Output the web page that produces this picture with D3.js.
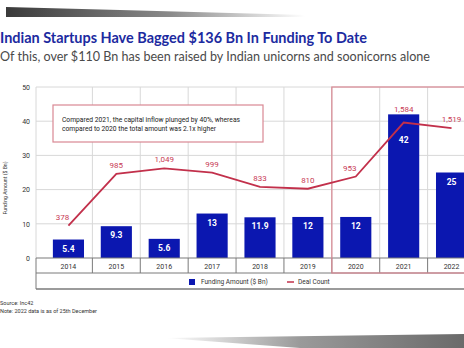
<!DOCTYPE html>
<html>
<head>
<meta charset="utf-8">
<script src="https://cdn.jsdelivr.net/npm/d3@7"></script>
<style>
  html, body { margin: 0; padding: 0; background: #fff; }
  svg { display: block; }
  text { font-family: "Liberation Sans Narrow", "Roboto", sans-serif; }
</style>
</head>
<body>
<svg id="chart" width="464" height="348"></svg>
<script>
    // chart data
    var years = ["2014", "2015", "2016", "2017", "2018", "2019", "2020", "2021", "2022"];
    var funding = [5.4, 9.3, 5.6, 13, 11.9, 12, 12, 42, 25];
    var fundingLabels = ["5.4", "9.3", "5.6", "13", "11.9", "12", "12", "42", "25"];
    var deals = [378, 985, 1049, 999, 833, 810, 953, 1584, 1519];
    var yTicks = [0, 10, 20, 30, 40, 50];
    var highlightYears = ["2020", "2021", "2022"];

    (function() {
    'use strict';
    var blue = "#0b17b0", red = "#c2304b", pink = "#d98893";

    var svg = d3.select("#chart");
    svg.append("rect").attr("width", 464).attr("height", 348).attr("fill", "#fff");

    var defs = svg.append("defs");
    var g1 = defs.append("linearGradient").attr("id", "shTop");
    g1.append("stop").attr("offset", "0%").attr("stop-color", "#3a3a3a");
    g1.append("stop").attr("offset", "55%").attr("stop-color", "#8a8a8a");
    g1.append("stop").attr("offset", "100%").attr("stop-color", "#fff");
    var g2 = defs.append("linearGradient").attr("id", "shBot");
    g2.append("stop").attr("offset", "0%").attr("stop-color", "#fff");
    g2.append("stop").attr("offset", "45%").attr("stop-color", "#9a9a9a");
    g2.append("stop").attr("offset", "100%").attr("stop-color", "#6a6a6a");

    // photo shadows of the slide
    svg.append("path").attr("d", "M6,7 L120,10 L305,15 L305,17 L6,17 Z").attr("fill", "url(#shTop)");
    svg.append("path").attr("d", "M165,338 L464,334 L464,348 L300,348 Z").attr("fill", "url(#shBot)");

    // titles
    svg.append("text").attr("x", 0).attr("y", 43)
        .attr("textLength", 367).attr("lengthAdjust", "spacingAndGlyphs")
        .style("font-family", "Lato, 'Open Sans', sans-serif")
        .attr("font-size", 15).attr("font-weight", "bold").attr("fill", "#1c2aa0")
        .text("Indian Startups Have Bagged $136 Bn In Funding To Date");
    svg.append("text").attr("x", 0).attr("y", 61)
        .attr("textLength", 430).attr("lengthAdjust", "spacingAndGlyphs")
        .style("font-family", "Lato, 'Open Sans', sans-serif")
        .attr("font-size", 13).attr("fill", "#4a4a4a")
        .text("Of this, over $110 Bn has been raised by Indian unicorns and soonicorns alone");

    var plotLeft = 36, plotTop = 87, base = 258, axisRow = 273, legendRow = 289;

    var x = d3.scaleBand().domain(years).range([44.5, 475.5]);
    var y = d3.scaleLinear().domain([0, 50]).range([base, plotTop]);
    var yDeal = d3.scaleLinear().domain([0, 2000]).range([base, plotTop]);
    var barW = x.bandwidth() * 0.65;
    var cx = function(d) { return x(d) + x.bandwidth() / 2; };

    // grid
    svg.append("g").selectAll("line").data(yTicks.slice(1)).join("line")
        .attr("x1", plotLeft).attr("x2", 464)
        .attr("y1", function(d) { return y(d); }).attr("y2", function(d) { return y(d); })
        .attr("stroke", "#d8d8d8").attr("stroke-width", 1);
    svg.append("g").selectAll("line").data(years.slice(1)).join("line")
        .attr("x1", function(d) { return x(d); }).attr("x2", function(d) { return x(d); })
        .attr("y1", plotTop).attr("y2", base)
        .attr("stroke", "#d8d8d8").attr("stroke-width", 1);
    svg.append("line").attr("x1", plotLeft).attr("x2", plotLeft).attr("y1", plotTop).attr("y2", base)
        .attr("stroke", "#d8d8d8");

    // y axis
    var yAxis = svg.append("g").attr("transform", "translate(" + plotLeft + ",0)")
        .call(d3.axisLeft(y).tickValues(yTicks).tickSize(0).tickPadding(6));
    yAxis.select(".domain").remove();
    yAxis.selectAll("text").attr("font-size", 7).attr("fill", "#333")
        .style("font-family", "'Liberation Sans Narrow', Roboto, sans-serif");
    svg.append("text").attr("transform", "translate(7,188) rotate(-90)")
        .attr("text-anchor", "middle").attr("font-size", 5.5).attr("fill", "#333")
        .attr("textLength", 53).attr("lengthAdjust", "spacingAndGlyphs")
        .text("Funding Amount ($ Bn)");

    // annotation box
    svg.append("rect").attr("x", 53).attr("y", 105).attr("width", 210).attr("height", 37)
        .attr("fill", "#fff").attr("stroke", pink).attr("stroke-width", 1.2);
    svg.append("text").attr("x", 62).attr("y", 122).attr("font-size", 7).attr("fill", "#222")
        .attr("textLength", 178).attr("lengthAdjust", "spacingAndGlyphs")
        .text("Compared 2021, the capital inflow plunged by 40%, whereas");
    svg.append("text").attr("x", 62).attr("y", 131).attr("font-size", 7).attr("fill", "#222")
        .attr("textLength", 154).attr("lengthAdjust", "spacingAndGlyphs")
        .text("compared to 2020 the total amount was 2.1x higher");

    // bars
    svg.append("g").selectAll("rect").data(years).join("rect")
        .attr("x", function(d) { return cx(d) - barW / 2; })
        .attr("y", function(d, i) { return y(funding[i]); })
        .attr("width", barW)
        .attr("height", function(d, i) { return base - y(funding[i]); })
        .attr("fill", blue);

    // table rows under the axis
    var tbl = svg.append("g").attr("stroke", "#7a7a7a").attr("fill", "none");
    tbl.append("line").attr("x1", plotLeft).attr("x2", 464).attr("y1", base).attr("y2", base).attr("stroke-width", 1.2);
    tbl.append("line").attr("x1", plotLeft).attr("x2", 464).attr("y1", axisRow).attr("y2", axisRow);
    tbl.append("line").attr("x1", plotLeft).attr("x2", 464).attr("y1", legendRow).attr("y2", legendRow).attr("stroke-width", 1.5);
    tbl.append("line").attr("x1", plotLeft).attr("x2", plotLeft).attr("y1", base).attr("y2", legendRow);
    tbl.selectAll(".sep").data(years.slice(1)).join("line")
        .attr("x1", function(d) { return x(d); }).attr("x2", function(d) { return x(d); })
        .attr("y1", base).attr("y2", axisRow);

    svg.append("g").selectAll("text").data(years).join("text")
        .attr("x", cx).attr("y", 268.5).attr("text-anchor", "middle")
        .attr("font-size", 7).attr("fill", "#333").text(function(d) { return d; });

    // highlight box
    var hx = x(highlightYears[0]);
    svg.append("rect").attr("x", hx).attr("y", plotTop).attr("width", 480 - hx).attr("height", axisRow - plotTop)
        .attr("fill", "none").attr("stroke", pink).attr("stroke-width", 1.2);

    // deal count line
    var line = d3.line()
        .x(function(d) { return cx(d); })
        .y(function(d, i) { return yDeal(deals[i]); });
    svg.append("path").datum(years).attr("d", line)
        .attr("fill", "none").attr("stroke", red).attr("stroke-width", 1.8);

    // bar value labels
    svg.append("g").selectAll("text").data(years).join("text")
        .attr("x", cx)
        .attr("y", function(d, i) {
            var t = y(funding[i]), ly = yDeal(deals[i]);
            if (ly > t - 5 && ly < t + 20) return ly + 20;
            return t + 12;
        })
        .attr("text-anchor", "middle").attr("font-size", 8.5).attr("font-weight", "bold")
        .attr("fill", "#fff").text(function(d, i) { return fundingLabels[i]; });

    // deal labels, kept clear of the bars and of a steep rise to the right
    svg.append("g").selectAll("text").data(years).join("text")
        .attr("x", function(d, i) {
            var steep = i < deals.length - 1 && deals[i + 1] - deals[i] > 300;
            return cx(d) + (steep ? -6 : 0);
        })
        .attr("y", function(d, i) { return Math.min(yDeal(deals[i]) - 6, y(funding[i]) - 2.5); })
        .attr("text-anchor", "middle").attr("font-size", 8).attr("fill", "#c83a55")
        .text(function(d, i) { return d3.format(",")(deals[i]); });

    // legend
    svg.append("rect").attr("x", 189).attr("y", 279).attr("width", 6).attr("height", 6).attr("fill", blue);
    svg.append("text").attr("x", 201).attr("y", 284).attr("font-size", 6.5).attr("fill", "#333")
        .text("Funding Amount ($ Bn)");
    svg.append("line").attr("x1", 287).attr("x2", 294).attr("y1", 282).attr("y2", 282)
        .attr("stroke", red).attr("stroke-width", 1.5);
    svg.append("text").attr("x", 298).attr("y", 284).attr("font-size", 6.5).attr("fill", "#333")
        .text("Deal Count");

    // footnotes
    svg.append("text").attr("x", 0).attr("y", 305).attr("font-size", 5.5).attr("fill", "#333")
        .text("Source: Inc42");
    svg.append("text").attr("x", 0).attr("y", 313).attr("font-size", 5.5).attr("fill", "#333")
        .text("Note: 2022 data is as of 25th December");
    })();
</script>
</body>
</html>
